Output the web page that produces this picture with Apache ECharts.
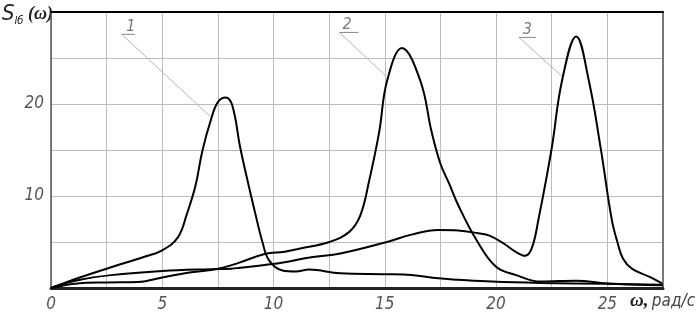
<!DOCTYPE html>
<html><head><meta charset="utf-8">
<script src="https://cdn.jsdelivr.net/npm/echarts@6/dist/echarts.min.js"></script>
<style>html,body{margin:0;padding:0;background:#fff}#c{width:699px;height:317px}</style>
</head><body><div id="c"></div>
<script>
// Curve 1
const omega1 = [0, 1, 2.5, 4.2, 5, 5.7, 6.1, 6.5, 6.8, 7.2, 7.5, 7.85, 8.15, 8.5, 8.8, 9.15, 9.5, 9.8, 10.4, 11.0, 11.6, 13, 15.1, 16.2, 17.4, 18.3, 19.8, 22, 25, 27.5];
const s1     = [0, 0.9, 2.1, 3.4, 4.1, 5.5, 8.0, 11.2, 14.9, 18.4, 20.2, 20.7, 19.8, 15.3, 12.0, 8.4, 5.0, 3.0, 1.9, 1.8, 2.0, 1.6, 1.5, 1.4, 1.05, 0.9, 0.7, 0.55, 0.45, 0.35];
// Curve 2
const omega2 = [0, 1.2, 2.5, 3.9, 5.1, 6.3, 7.5, 8.4, 9.6, 10.5, 11.2, 12.5, 13.4, 13.9, 14.3, 14.75, 15.1, 15.77, 16.6, 17.1, 17.5, 17.9, 18.3, 19.1, 20, 20.9, 22, 23.6, 25, 27.5];
const s2     = [0, 0.5, 0.6, 0.65, 1.2, 1.7, 2.1, 2.7, 3.7, 3.95, 4.3, 5.0, 6.1, 7.9, 11.7, 17, 22.5, 26.1, 22.5, 17, 13.5, 11.3, 9.0, 5.3, 2.3, 1.4, 0.7, 0.8, 0.5, 0.3];
// Curve 3
const omega3 = [0, 1.2, 2.7, 5, 7.2, 8.1, 8.5, 9.6, 10.5, 11.7, 13, 15.1, 16.2, 17.4, 18.3, 19.2, 19.7, 20.3, 20.9, 21.3, 21.6, 21.9, 22.5, 22.96, 23.6, 24.17, 24.7, 25.2, 25.45, 25.7, 26.1, 26.9, 27.45];
const s3     = [0, 0.85, 1.4, 1.85, 2.05, 2.1, 2.2, 2.5, 2.8, 3.35, 3.75, 5.0, 5.8, 6.3, 6.25, 5.95, 5.7, 4.9, 3.9, 3.5, 4.3, 7.4, 15.2, 22.5, 27.35, 22.5, 15.2, 7.4, 5.0, 3.2, 2.1, 1.2, 0.5];

const xTickLabels = [0, 5, 10, 15, 20, 25];
const yTickLabels = [10, 20];
const curveNames = ['1', '2', '3'];
const labelPos = [[3.59, 28.4], [13.3, 28.6], [21.4, 28.1]];
const leaderStart = [[3.18, 27.57], [12.96, 27.78], [21.03, 27.24]];
const leaderEnd = [[7.22, 18.5], [15.07, 23.0], [22.96, 23.0]];
const underlineEnd = [[3.77, 27.57], [13.81, 27.78], [21.79, 27.24]];

const zip = (a, b) => a.map((v, i) => [v, b[i]]);
const FONT = "'Liberation Sans Narrow','DejaVu Sans Condensed','DejaVu Sans',sans-serif";

const curves = [zip(omega1, s1), zip(omega2, s2), zip(omega3, s3)];
const series = [];
curves.forEach((d, i) => series.push({
  type: 'line', name: curveNames[i], data: d, smooth: 0.4, showSymbol: false,
  lineStyle: { color: '#000', width: 2 }, z: 5, silent: true
}));
leaderStart.forEach((p, i) => {
  series.push({ type: 'line', data: [p, leaderEnd[i]], showSymbol: false, silent: true,
    lineStyle: { color: '#b5b5b5', width: 1 }, z: 3 });
  series.push({ type: 'line', data: [p, underlineEnd[i]], showSymbol: false, silent: true,
    lineStyle: { color: '#888', width: 1 }, z: 3 });
});
series.push({
  type: 'scatter', symbolSize: 0, silent: true, z: 6,
  data: labelPos.map((p, i) => ({ value: p, name: curveNames[i] })),
  label: { show: true, position: 'inside', formatter: p => p.name,
    fontFamily: FONT, fontStyle: 'italic', fontSize: 16, color: '#555' }
});

const chart = echarts.init(document.getElementById('c'), null, { renderer: 'canvas' });
chart.setOption({
  animation: false,
  backgroundColor: '#fff',
  grid: { left: 51, top: 12, right: 36, bottom: 29 },
  xAxis: [{
    type: 'value', min: 0, max: 27.5, interval: 2.5,
    axisLine: { show: true, onZero: false, lineStyle: { color: '#222', width: 3 } },
    axisTick: { show: false },
    splitLine: { show: true, lineStyle: { color: '#bdbdbd', width: 1 } },
    axisLabel: {
      margin: 8, fontFamily: FONT, fontStyle: 'italic', fontSize: 17, color: '#555',
      formatter: v => xTickLabels.includes(v) ? String(v) : ''
    }
  }, {
    type: 'value', position: 'top', min: 0, max: 27.5, interval: 2.5,
    axisLine: { show: true, onZero: false, lineStyle: { color: '#000', width: 2 } },
    axisTick: { show: false }, axisLabel: { show: false }, splitLine: { show: false }
  }],
  yAxis: [{
    type: 'value', min: 0, max: 30, interval: 5,
    axisLine: { show: true, onZero: false, lineStyle: { color: '#555', width: 1.5 } },
    axisTick: { show: false },
    splitLine: { show: true, lineStyle: { color: '#bdbdbd', width: 1 } },
    axisLabel: {
      margin: 7, fontFamily: FONT, fontStyle: 'italic', fontSize: 17, color: '#555',
      formatter: v => yTickLabels.includes(v) ? String(v) : ''
    }
  }, {
    type: 'value', position: 'right', min: 0, max: 30, interval: 5,
    axisLine: { show: true, onZero: false, lineStyle: { color: '#777', width: 2 } },
    axisTick: { show: false }, axisLabel: { show: false }, splitLine: { show: false }
  }],
  graphic: [{
    type: 'text', left: 2, top: 3,
    style: {
      text: '{s|S}{sub|lб}{w| (ω)}',
      rich: {
        s: { fontFamily: FONT, fontStyle: 'italic', fontSize: 22, fill: '#222' },
        sub: { fontFamily: FONT, fontStyle: 'italic', fontSize: 11, fill: '#222', padding: [14, 0, 0, 0] },
        w: { fontFamily: "'Liberation Serif',serif", fontStyle: 'italic', fontWeight: 'bold', fontSize: 18, fill: '#222' }
      }
    }
  }, {
    type: 'text', left: 630, top: 292,
    style: {
      text: '{w|ω,} {r|рад/с}',
      rich: {
        w: { fontFamily: "'Liberation Serif',serif", fontStyle: 'italic', fontWeight: 'bold', fontSize: 19, fill: '#222' },
        r: { fontFamily: FONT, fontStyle: 'italic', fontSize: 17, fill: '#444' }
      }
    }
  }],
  series: series
});
</script></body></html>
